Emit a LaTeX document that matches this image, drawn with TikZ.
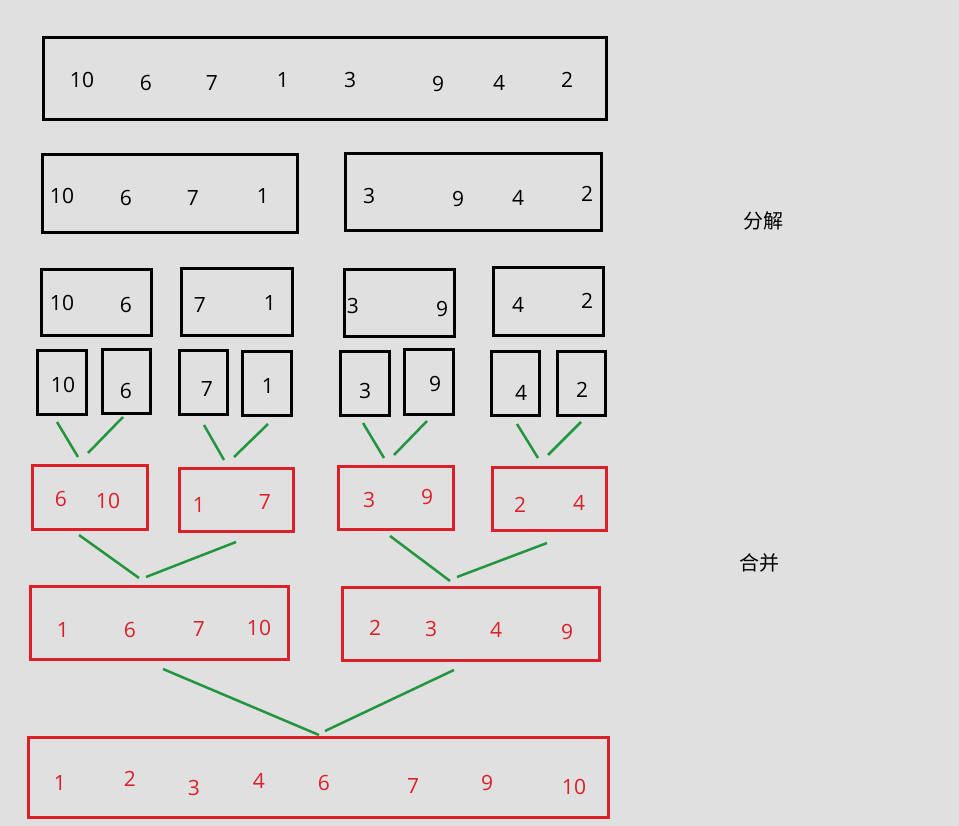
\documentclass[tikz,border=0pt]{standalone}
\usepackage{fontspec}
\setmainfont{Open Sans}
\newfontfamily\cjk{Noto Sans CJK SC}
\definecolor{bg}{RGB}{224,224,224}
\definecolor{mred}{RGB}{218,32,40}
\definecolor{mgreen}{RGB}{34,150,60}

\begin{document}
\begin{tikzpicture}[x=1pt,y=-1pt,
  splitbox/.style={draw=black,line width=3pt},
  mergebox/.style={draw=mred,line width=3pt},
  link/.style={draw=mgreen,line width=2.5pt},
  num/.style={font=\fontsize{21}{21}\selectfont,inner sep=0pt},
  rnum/.style={num,text=mred},
  tag/.style={font=\cjk\fontsize{20}{20}\selectfont}]
\fill[bg] (0,0) rectangle (959,826);
\useasboundingbox (0,0) rectangle (959,826);
\draw[splitbox] (43,38) rectangle (606,120);
\draw[splitbox] (42,155) rectangle (297,233);
\draw[splitbox] (345,154) rectangle (601,231);
\draw[splitbox] (41,270) rectangle (151,336);
\draw[splitbox] (181,269) rectangle (292,336);
\draw[splitbox] (344,270) rectangle (454,337);
\draw[splitbox] (493,268) rectangle (603,336);
\draw[splitbox] (37,351) rectangle (86,414);
\draw[splitbox] (102,350) rectangle (150,413);
\draw[splitbox] (179,351) rectangle (227,414);
\draw[splitbox] (242,352) rectangle (291,415);
\draw[splitbox] (340,352) rectangle (389,415);
\draw[splitbox] (404,350) rectangle (453,414);
\draw[splitbox] (491,352) rectangle (539,415);
\draw[splitbox] (557,352) rectangle (605,415);
\draw[mergebox] (32,465) rectangle (147,529);
\draw[mergebox] (179,468) rectangle (293,531);
\draw[mergebox] (338,466) rectangle (453,529);
\draw[mergebox] (492,467) rectangle (606,530);
\draw[mergebox] (30,586) rectangle (288,659);
\draw[mergebox] (342,587) rectangle (599,660);
\draw[mergebox] (28,737) rectangle (608,817);
\foreach \v/\x/\y in {10/82/80,6/146/83,7/212/83,1/283/80,3/350/80,9/438/84,4/499/83,2/567/80}
  \node[num] (a\v) at (\x,\y) {\v};
\foreach \v/\x/\y in {10/62/196,6/126/198,7/193/198,1/263/196,3/369/196,9/458/199,4/518/198,2/587/194}
  \node[num] (b\v) at (\x,\y) {\v};
\foreach \v/\x/\y in {10/62/303,6/126/305,7/200/305,1/270/303,3/353/306,9/442/309,4/518/305,2/587/301}
  \node[num] (c\v) at (\x,\y) {\v};
\foreach \v/\x/\y in {10/63/385,6/126/391,7/207/389,1/268/386,3/365/391,9/435/384,4/521/393,2/582/390}
  \node[num] (d\v) at (\x,\y) {\v};
\foreach \v/\x/\y in {6/61/499,10/108/501,1/199/505,7/265/502,3/369/500,9/427/497,2/520/505,4/579/503}
  \node[rnum] (e\v) at (\x,\y) {\v};
\foreach \v/\x/\y in {1/63/630,6/130/630,7/199/629,10/259/628,2/375/628,3/431/629,4/496/630,9/567/632}
  \node[rnum] (f\v) at (\x,\y) {\v};
\foreach \v/\x/\y in {1/60/783,2/130/779,3/194/788,4/259/781,6/324/783,7/413/786,9/487/783,10/574/787}
  \node[rnum] (g\v) at (\x,\y) {\v};
\foreach \i/\ax/\ay/\bx/\by in {1/57/422/78/457,2/123/417/88/453,3/204/425/224/460,4/268/424/234/457,
    5/363/423/384/458,6/427/421/394/455,7/517/424/538/458,8/581/422/548/455,
    9/79/535/139/578,10/236/542/146/577,11/390/536/450/581,12/547/543/457/577,
    13/163/669/319/735,14/454/670/325/731} {
  \coordinate (s\i) at (\ax,\ay);
  \coordinate (t\i) at (\bx,\by);
  \draw[link] (s\i) -- (t\i);
}
\node[tag] (split) at (763,221) {分解};
\node[tag] (merge) at (759,563) {合并};
\end{tikzpicture}
\end{document}
